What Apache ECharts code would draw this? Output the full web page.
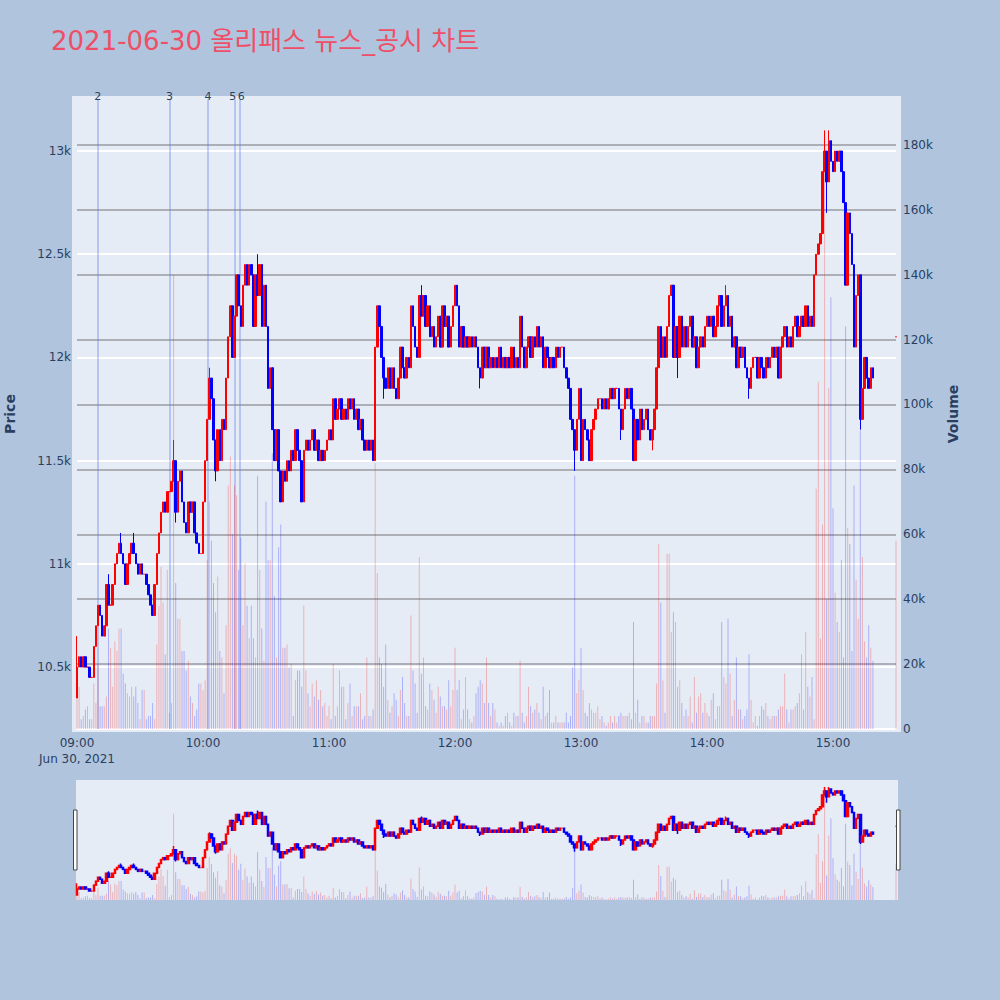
<!DOCTYPE html>
<html>
<head>
<meta charset="utf-8">
<script src="https://cdn.jsdelivr.net/npm/echarts/dist/echarts.min.js"></script>
<style>
html,body{margin:0;padding:0;background:#b0c4de;}
#chart{width:1000px;height:1000px;}
</style>
</head>
<body>
<div id="chart"></div>
<script>
// ---------- DATA ----------
// minutes after 09:00 for each 1-minute candle (index = minute)
const firstOpen = 10350;
const closes = [
10500,10550,10500,10550,10500,10500,10450,10450,10600,10700,
10800,10750,10650,10700,10900,10800,10800,10900,11000,11050,
11100,11050,11000,10900,11000,11050,11100,11050,11000,10950,
11000,10950,10950,10900,10850,10800,10750,10900,11050,11150,
11250,11300,11250,11350,11350,11400,11500,11250,11400,11450,
11300,11200,11150,11300,11250,11300,11150,11100,11050,11050,
11300,11500,11700,11900,11800,11600,11450,11650,11500,11700,
11650,11900,12100,12250,12000,12200,12400,12250,12150,12350,
12450,12350,12450,12400,12150,12400,12300,12450,12150,12350,
12150,11850,11950,11650,11500,11650,11450,11300,11450,11400,
11500,11450,11550,11500,11650,11550,11500,11300,11550,11600,
11550,11600,11650,11550,11600,11500,11550,11500,11550,11600,
11650,11600,11800,11700,11750,11800,11700,11750,11700,11800,
11750,11800,11700,11750,11650,11700,11600,11550,11600,11550,
11600,11500,12050,12250,12150,12000,11900,11850,11950,11850,
11950,11850,11800,11900,12050,11950,11900,12000,11950,12250,
12150,12050,12000,12300,12200,12300,12150,12250,12100,12150,
12050,12100,12200,12050,12250,12150,12200,12050,12150,12250,
12350,12250,12050,12150,12050,12100,12050,12100,12050,12100,
12050,11950,11900,12050,11950,12050,11950,12000,11950,12000,
11950,12050,11950,12000,11950,12000,11950,12050,11950,12000,
11950,12200,12050,11950,12050,12100,12000,12100,12050,12150,
12050,12100,11950,12050,12000,11950,12000,11950,12050,12000,
12050,12050,11950,11900,11850,11700,11650,11550,11700,11850,
11500,11700,11650,11600,11500,11650,11700,11750,11800,11800,
11750,11800,11750,11800,11850,11800,11850,11850,11750,11650,
11750,11850,11800,11850,11750,11500,11700,11600,11750,11650,
11700,11750,11650,11600,11650,11750,11950,12150,12000,12100,
12000,12150,12300,12350,12000,12150,12000,12200,12050,12150,
12050,12150,12200,12050,12100,11950,12050,12100,12050,12150,
12200,12150,12200,12100,12150,12250,12300,12150,12250,12300,
12150,12200,12050,12100,11950,12050,12000,12050,11950,11900,
11850,11950,12000,12000,11900,12000,11950,11900,12000,11950,
12000,12050,12000,12050,11900,12050,12100,12150,12050,12100,
12050,12150,12200,12100,12150,12200,12150,12250,12150,12200,
12150,12400,12500,12550,12600,12900,13000,12850,13050,12950,
12900,13000,12950,13000,12900,12750,12350,12700,12600,12450,
12050,12300,12400,11700,11850,12000,11900,11850,11950,11900
];
// [minute, price] wick extremes beyond the bodies
const wickHigh = [[0,10650],[15,10950],[21,11150],[27,11150],[46,11600],[63,11950],[86,12500],[164,12350],[309,12350],[356,13100],[358,13100]];
const wickLow = [[47,11200],[66,11400],[146,11800],[192,11850],[237,11450],[259,11600],[274,11550],[286,11900],[320,11800],[357,12700],[373,11650]];
// volume per minute, thousands of shares
const volumeK = [
14,13,3,4,6,7,3,3,14,8,
20,7,7,7,10,31,25,13,27,24,
31,31,17,14,11,10,13,10,13,8,
3,12,12,3,4,4,8,3,26,38,
50,39,23,49,5,8,140,45,34,34,
24,24,18,21,10,8,4,6,14,14,
12,15,52,70,58,45,36,47,24,22,
11,32,75,84,60,75,72,49,59,32,
51,38,28,38,28,22,78,49,31,21,
70,52,52,85,41,22,56,63,25,25,
26,19,20,4,15,18,18,13,38,18,
11,7,14,10,15,9,12,7,8,4,
7,3,20,4,7,18,13,13,3,8,
14,4,7,7,7,11,3,4,22,4,
4,6,82,48,22,20,13,26,9,5,
7,11,9,4,12,16,8,4,4,35,
18,14,5,53,17,22,7,6,14,12,
9,5,13,10,7,7,6,15,7,12,
25,12,15,3,6,16,6,3,2,4,
11,13,15,14,8,22,8,4,8,6,
2,1,2,1,4,5,2,1,5,4,
4,21,5,2,4,13,7,5,6,8,
5,3,13,4,5,12,2,2,4,2,
2,2,2,5,2,4,19,78,11,15,
25,12,5,4,8,6,5,5,7,3,
4,2,1,2,4,2,4,2,4,5,
4,4,4,5,3,33,5,9,2,4,
4,2,2,4,4,4,14,57,39,15,
5,54,54,30,36,33,13,15,8,4,
6,4,10,2,16,5,10,11,5,8,
5,4,9,11,3,7,7,33,16,14,
34,17,4,9,22,6,6,3,4,6,
23,9,2,4,1,4,7,6,8,4,
3,4,4,4,6,7,7,17,6,2,
6,6,7,8,11,23,6,30,13,10,
16,3,74,107,28,63,184,40,105,133,
68,42,33,30,52,22,124,62,57,24,
75,46,34,92,53,27,22,32,25,21
];
// closing auction at 15:30
const auctionMinute = 390, auctionPrice = 12100, auctionVolumeK = 58;
// news / disclosure event markers (minutes after 09:00)
const eventMinutes = [9.9, 44, 62.4, 75.1, 77.3];
const eventLabels = ['2','3','4','5','6'];
// tick labels
const priceTicks = [10500,11000,11500,12000,12500,13000];
const volumeTicks = [20000,40000,60000,80000,100000,120000,140000,160000,180000];
const hourTicks = [0,60,120,180,240,300,360];
const dateLabel = 'Jun 30, 2021';
const titleText = '2021-06-30 올리패스 뉴스_공시 차트';

// ---------- BUILD ----------
const RED = '#ff0000', BLUE = '#0000ff';
const hiMap = Object.fromEntries(wickHigh), loMap = Object.fromEntries(wickLow);
const candles = [], vols = [];
for (let i = 0; i < closes.length; i++) {
  const o = i === 0 ? firstOpen : closes[i-1], c = closes[i];
  let h = Math.max(o, c), l = Math.min(o, c);
  if (hiMap[i] !== undefined) h = Math.max(h, hiMap[i]);
  if (loMap[i] !== undefined) l = Math.min(l, loMap[i]);
  candles.push([i, o, c, l, h]);
  vols.push({value: [i, volumeK[i]*1000], itemStyle: {color: c >= o ? 'rgba(255,0,0,0.25)' : 'rgba(0,0,255,0.25)'}});
}
candles.push([auctionMinute, auctionPrice, auctionPrice, auctionPrice, auctionPrice]);
vols.push({value: [auctionMinute, auctionVolumeK*1000], itemStyle: {color: 'rgba(255,0,0,0.25)'}});

const FONT = 'DejaVu Sans, Verdana, Noto Sans CJK KR, sans-serif';
const TXT = '#2a3f5f';
const hhmm = m => { const t = 9*60 + m; return String(Math.floor(t/60)).padStart(2,'0') + ':' + String(t%60).padStart(2,'0'); };
const eventOffsets = [[0,0],[0,0],[0,0],[-2,0],[2,0]];

const chart = echarts.init(document.getElementById('chart'), null, {renderer: 'svg'});
const candleStyle = {color: RED, color0: BLUE, borderColor: RED, borderColor0: BLUE, borderWidth: 1};
const miniCandleStyle = {color: RED, color0: BLUE, borderColor: RED, borderColor0: BLUE, borderWidth: 1.5};

chart.setOption({
  animation: false,
  backgroundColor: '#b0c4de',
  title: {text: titleText, left: 46, top: 23, textStyle: {color: '#ee4f67', fontSize: 26, fontWeight: 'normal', fontFamily: FONT}},
  graphic: [
    {type: 'rect', z: -100, silent: true, shape: {x: 72, y: 96, width: 829, height: 636}, style: {fill: '#e5ecf6'}},
    {type: 'rect', z: -100, silent: true, shape: {x: 76, y: 780, width: 822, height: 120}, style: {fill: '#e5ecf6'}},
    {type: 'rect', z: 100, silent: true, shape: {x: 73.5, y: 810, width: 3.5, height: 60}, style: {fill: '#ffffff', stroke: '#444444', lineWidth: 1}},
    {type: 'rect', z: 100, silent: true, shape: {x: 896.5, y: 810, width: 3.5, height: 60}, style: {fill: '#ffffff', stroke: '#444444', lineWidth: 1}},
    {type: 'text', z: 100, x: 10, y: 414, rotation: Math.PI/2, style: {text: 'Price', fill: TXT, font: 'bold 14px ' + FONT, textAlign: 'center', textVerticalAlign: 'middle'}},
    {type: 'text', z: 100, x: 953, y: 414, rotation: Math.PI/2, style: {text: 'Volume', fill: TXT, font: 'bold 14px ' + FONT, textAlign: 'center', textVerticalAlign: 'middle'}}
  ],
  grid: [
    {left: 77, right: 104, top: 99.4, bottom: 271, outerBoundsMode: 'none'},
    {left: 77, right: 104, top: 780, height: 120, outerBoundsMode: 'none'}
  ],
  xAxis: [
    {type: 'value', gridIndex: 0, min: 0, max: auctionMinute, interval: 60,
     axisLine: {show: true, lineStyle: {color: '#ffffff', width: 2}}, axisTick: {show: false}, splitLine: {show: false},
     axisLabel: {color: TXT, fontSize: 12, fontFamily: FONT, margin: 6, lineHeight: 16, showMaxLabel: false,
       formatter: v => hourTicks.includes(v) ? (v === 0 ? hhmm(v) + '\n' + dateLabel : hhmm(v)) : ''}},
    {type: 'value', gridIndex: 1, min: 0, max: auctionMinute, show: false}
  ],
  yAxis: [
    {type: 'value', gridIndex: 0, min: 10200, max: 13250, interval: 50, position: 'left',
     axisLine: {show: false}, axisTick: {show: false}, splitLine: {show: false},
     axisLabel: {color: TXT, fontSize: 12, fontFamily: FONT, margin: 6,
       formatter: v => priceTicks.includes(v) ? (v/1000) + 'k' : ''}},
    {type: 'value', gridIndex: 0, min: 0, max: 194000, interval: 2000, position: 'right',
     axisLine: {show: false}, axisTick: {show: false}, splitLine: {show: false},
     axisLabel: {color: TXT, fontSize: 12, fontFamily: FONT, margin: 7,
       formatter: v => v === 0 ? '0' : (volumeTicks.includes(v) ? (v/1000) + 'k' : '')}},
    {type: 'value', gridIndex: 1, min: 10220, max: 13280, show: false, splitLine: {show: false}},
    {type: 'value', gridIndex: 1, min: 0, max: 195000, show: false, splitLine: {show: false}}
  ],
  series: [
    {name: 'priceGrid', type: 'line', xAxisIndex: 0, yAxisIndex: 0, data: [], z: 1,
     markLine: {z: 1, silent: true, symbol: 'none', label: {show: false}, animation: false,
       lineStyle: {color: '#ffffff', width: 2, type: 'solid'}, data: priceTicks.map(v => ({yAxis: v}))}},
    {name: 'volumeGrid', type: 'line', xAxisIndex: 0, yAxisIndex: 1, data: [], z: 1,
     markLine: {z: 1, silent: true, symbol: 'none', label: {show: false}, animation: false,
       lineStyle: {color: 'rgba(100,100,100,0.6)', width: 1.5, type: 'solid'}, data: volumeTicks.map(v => ({yAxis: v}))}},
    {name: 'Volume', type: 'bar', xAxisIndex: 0, yAxisIndex: 1, data: vols, barWidth: 1, z: 2, clip: false,
     markLine: {z: 2, silent: true, symbol: 'none', animation: false,
       lineStyle: {color: 'rgba(90,120,240,0.45)', width: 1.5, type: 'solid'},
       label: {show: true, position: 'end', color: TXT, fontSize: 11, fontFamily: FONT, distance: -3},
       data: eventMinutes.map((m, i) => ({xAxis: m, label: {formatter: eventLabels[i], offset: eventOffsets[i]}}))}},
    {name: 'Price', type: 'candlestick', xAxisIndex: 0, yAxisIndex: 0, data: candles, z: 3, clip: false,
     dimensions: ['t','open','close','low','high'], encode: {x: 0, y: [1,2,3,4]},
     barWidth: 2, itemStyle: candleStyle},
    {name: 'VolumeMini', type: 'bar', xAxisIndex: 1, yAxisIndex: 3, data: vols, barWidth: 1, z: 2, clip: false},
    {name: 'PriceMini', type: 'candlestick', xAxisIndex: 1, yAxisIndex: 2, data: candles, z: 3, clip: false,
     dimensions: ['t','open','close','low','high'], encode: {x: 0, y: [1,2,3,4]},
     barWidth: 2, itemStyle: miniCandleStyle}
  ]
});
</script>
</body>
</html>
